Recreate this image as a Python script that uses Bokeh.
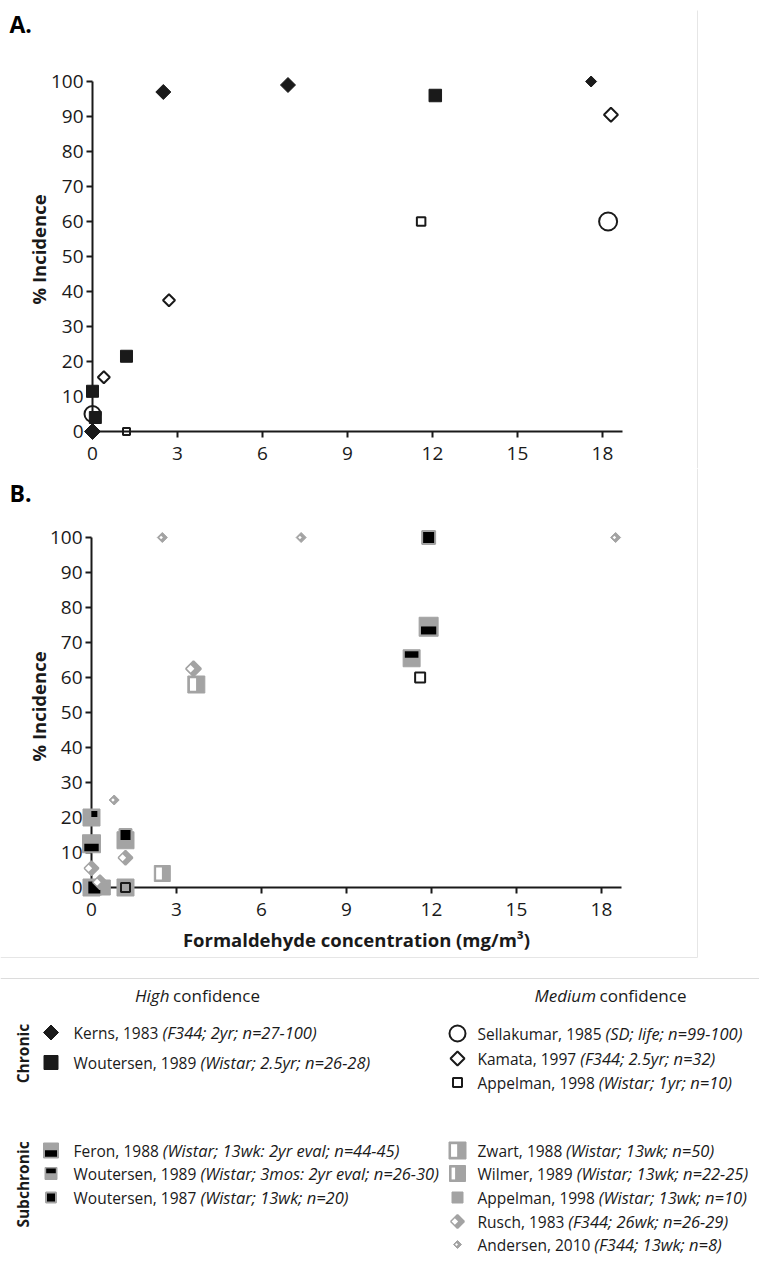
import math
from bokeh.plotting import figure
from bokeh.models import Range1d, LinearAxis, FixedTicker, ColumnDataSource
from bokeh.layouts import column
from bokeh.transform import dodge
from bokeh.core.properties import value
from bokeh.embed import file_html
from bokeh.resources import INLINE

# ---------------- data ----------------
x_ticks = [0, 3, 6, 9, 12, 15, 18]
y_ticks = [0, 10, 20, 30, 40, 50, 60, 70, 80, 90, 100]

# Panel A (chronic)
kerns_x = [0, 2.5, 6.9, 17.6]
kerns_y = [0, 97, 99, 100]
wout89c_x = [0, 0.1, 1.2, 12.1]
wout89c_y = [11.5, 4, 21.5, 96]
sella_x = [0, 18.2]
sella_y = [5, 60]
kamata_x = [0.4, 2.7, 18.3]
kamata_y = [15.5, 37.5, 90.5]
app1yr_a_x = [1.2, 11.6]
app1yr_a_y = [0, 60]

# Panel B (chronic + subchronic)
app13_x = [0, 1.2, 0, 1.2]
app13_y = [20, 13.5, 0, 0]
wilmer_x = [0.4]
wilmer_y = [0]
zwart_x = [2.5, 3.7]
zwart_y = [4, 58]
feron_x = [0, 11.9]
feron_y = [12.5, 74.5]
wout89s_x = [11.3]
wout89s_y = [65.5]
wout87_x = [0.1, 1.2, 0.1, 11.9]
wout87_y = [21, 15, 0, 100]
app1yr_b_x = [1.2, 11.6]
app1yr_b_y = [0, 60]
rusch_x = [0, 0.3, 1.2, 3.6]
rusch_y = [5.5, 1.5, 8.5, 62.5]
andersen_x = [0.8, 2.5, 7.4, 18.5]
andersen_y = [25, 100, 100, 100]

x_title = "Formaldehyde concentration (mg/m\u00b3)"
y_title = "% Incidence"

# ---------------- style ----------------
FONT = "Open Sans"
INK = "#1a1a1a"
GRAY = "#a3a3a3"
FAINT = "#e6e6e6"
W = 759
SX = 28.33   # px per mg/m3
SY = 3.5     # px per %

kerns_d = [16, 15, 15, 11]
wout89c_s = [12, 12, 12, 12.5]
sella_s = [16, 18]
kamata_d = [12, 12, 14]
app1yr_a_s = [7, 8.5]

app13_s = [17, 17, 17, 17]
wilmer_s = [15]
zwart_s = [16, 17]
feron_s = [18, 19]
wout89s_s = [17]
wout87_s = [8, 12, 14, 13]
app1yr_b_s = [9, 10]
rusch_d = [14, 14, 14, 15]
andersen_d = [10, 10, 10, 10]


class Frame:
    def __init__(self, p, ux, uy):
        self.p, self.ux, self.uy = p, ux, uy


def src(xs, ys, ss):
    return ColumnDataSource(dict(x=list(xs), y=list(ys), s=list(ss)))


def diamond(f, xs, ys, diag, fill, line, lw=1.0, dx=0.0):
    d = [v / math.sqrt(2) for v in diag]
    f.p.scatter(x=dodge("x", dx * f.ux), y="y", source=src(xs, ys, d), marker="square",
                angle=math.pi / 4, size="s", fill_color=fill, line_color=line, line_width=lw)


def square(f, xs, ys, size, fill, line, lw=1.0, marker="square"):
    f.p.scatter(x="x", y="y", source=src(xs, ys, size), marker=marker, size="s",
                fill_color=fill, line_color=line, line_width=lw)


def bar(f, xs, ys, w, h, dx, dy, fill):
    f.p.rect(x=dodge("x", dx * f.ux), y=dodge("y", dy * f.uy), width="w", height="h",
             width_units="screen", height_units="screen",
             source=ColumnDataSource(dict(x=list(xs), y=list(ys), w=list(w), h=list(h))),
             fill_color=fill, line_color=None)


def mean(v):
    return sum(v) / len(v)


def draw_kerns(f, xs, ys, d):
    diamond(f, xs, ys, d, INK, INK, 1)


def draw_wout89c(f, xs, ys, s):
    square(f, xs, ys, s, INK, INK, 1)


def draw_sella(f, xs, ys, s):
    square(f, xs, ys, s, None, INK, 2, marker="circle")


def draw_kamata(f, xs, ys, d):
    diamond(f, xs, ys, d, "white", INK, 2)


def draw_app1yr(f, xs, ys, s):
    square(f, xs, ys, s, None, INK, 2)


def draw_app13(f, xs, ys, s):
    square(f, xs, ys, s, GRAY, GRAY, 1)


def draw_feron(f, xs, ys, s):
    square(f, xs, ys, s, GRAY, GRAY, 1)
    m = mean(s)
    bar(f, xs, ys, [0.8 * v for v in s], [0.42 * v for v in s], 0, -0.2 * m, "black")


def draw_wout89s(f, xs, ys, s):
    square(f, xs, ys, s, GRAY, GRAY, 1)
    m = mean(s)
    bar(f, xs, ys, [0.8 * v for v in s], [0.38 * v for v in s], 0, 0.22 * m, "black")


def draw_wout87(f, xs, ys, s):
    square(f, xs, ys, s, "black", GRAY, 2)


def draw_zwart(f, xs, ys, s):
    square(f, xs, ys, s, GRAY, GRAY, 1)
    m = mean(s)
    bar(f, xs, ys, [0.36 * v for v in s], [0.74 * v for v in s], -0.2 * m, 0, "white")


def draw_wilmer(f, xs, ys, s):
    square(f, xs, ys, s, GRAY, GRAY, 1)
    m = mean(s)
    bar(f, xs, ys, [0.22 * v for v in s], [0.74 * v for v in s], -0.26 * m, 0, "white")


def draw_rusch(f, xs, ys, d):
    diamond(f, xs, ys, d, GRAY, GRAY, 2)
    diamond(f, xs, ys, [0.5 * v for v in d], "white", None, 0, dx=-0.2 * mean(d))


def draw_andersen(f, xs, ys, d):
    diamond(f, xs, ys, d, GRAY, GRAY, 1)
    diamond(f, xs, ys, [0.36 * v for v in d], "white", None, 0, dx=-0.12 * mean(d))


def panel(height, ax_px, zero_py, label, title_cy, with_xtitle):
    xr = Range1d(-ax_px / SX, (W - ax_px) / SX)
    yr = Range1d(-(height - zero_py) / SY, zero_py / SY)
    p = figure(width=W, height=height, x_range=xr, y_range=yr, output_backend="svg",
               toolbar_location=None, x_axis_type=None, y_axis_type=None, min_border=0,
               outline_line_color=None, background_fill_color="white", border_fill_color="white")
    common = dict(axis_line_width=2, axis_line_color=INK, major_tick_line_width=2,
                  major_tick_line_color=INK, major_tick_out=6, major_tick_in=0,
                  minor_tick_out=0, minor_tick_in=0, major_label_text_font=FONT,
                  major_label_text_font_size="19px", major_label_text_color=INK,
                  axis_label_text_font=FONT, axis_label_text_font_style="bold",
                  axis_label_text_font_size="18.5px", axis_label_text_color=INK, level="underlay")
    xa = LinearAxis(fixed_location=0, bounds=(0, 18.7), ticker=FixedTicker(ticks=x_ticks),
                    major_label_standoff=9, axis_label=(x_title if with_xtitle else None),
                    axis_label_standoff=8, **common)
    ya = LinearAxis(fixed_location=0, bounds=(0, 100), ticker=FixedTicker(ticks=y_ticks),
                    major_label_standoff=3, **common)
    p.add_layout(xa, "below")
    p.add_layout(ya, "left")
    px2x = lambda px: (px - ax_px) / SX
    px2y = lambda py: (zero_py - py) / SY
    # y-axis title
    p.text(x=[px2x(38)], y=[px2y(title_cy)], text=[y_title], angle=math.pi / 2,
           text_font=value(FONT), text_font_style="bold", text_font_size="18.5px",
           text_color=INK, text_align="center", text_baseline="middle")
    # panel letter
    p.text(x=[px2x(9)], y=[px2y(label[1])], text=[label[0]],
           text_font=value(FONT), text_font_style="bold", text_font_size="23px",
           text_color="black", text_align="left", text_baseline="middle")
    return p, Frame(p, 1 / SX, 1 / SY), px2x, px2y


# ---------------- Panel A ----------------
pA, fA, ax_, ay_ = panel(468, 92, 431, ("A.", 23), 249, False)
pA.segment(x0=[ax_(697)], y0=[ay_(10)], x1=[ax_(697)], y1=[ay_(468)], line_color=FAINT, line_width=1)
draw_sella(fA, sella_x, sella_y, sella_s)
draw_app1yr(fA, app1yr_a_x, app1yr_a_y, app1yr_a_s)
draw_kamata(fA, kamata_x, kamata_y, kamata_d)
draw_wout89c(fA, wout89c_x, wout89c_y, wout89c_s)
draw_kerns(fA, kerns_x, kerns_y, kerns_d)

# ---------------- Panel B ----------------
pB, fB, bx_, by_ = panel(492, 91, 419, ("B.", 24), 238, True)
pB.segment(x0=[bx_(697)], y0=[by_(0)], x1=[bx_(697)], y1=[by_(489)], line_color=FAINT, line_width=1)
pB.segment(x0=[bx_(0)], y0=[by_(489)], x1=[bx_(697)], y1=[by_(489)], line_color=FAINT, line_width=1)
draw_app13(fB, app13_x, app13_y, app13_s)
draw_wilmer(fB, wilmer_x, wilmer_y, wilmer_s)
draw_zwart(fB, zwart_x, zwart_y, zwart_s)
draw_feron(fB, feron_x, feron_y, feron_s)
draw_wout89s(fB, wout89s_x, wout89s_y, wout89s_s)
draw_app1yr(fB, app1yr_b_x, app1yr_b_y, app1yr_b_s)
draw_wout87(fB, wout87_x, wout87_y, wout87_s)
draw_rusch(fB, rusch_x, rusch_y, rusch_d)
draw_andersen(fB, andersen_x, andersen_y, andersen_d)

# ---------------- Legend ----------------
HL = 317
pL = figure(width=W, height=HL, x_range=Range1d(0, W), y_range=Range1d(HL, 0), output_backend="svg",
            toolbar_location=None, x_axis_type=None, y_axis_type=None, min_border=0,
            outline_line_color=None, background_fill_color="white", border_fill_color="white")
fL = Frame(pL, 1.0, -1.0)
pL.segment(x0=[0], y0=[18], x1=[W], y1=[18], line_color="#dcdcdc", line_width=1)

CW = {' ': .26, '(': .296, ')': .296, ',': .245, '-': .322, '.': .266, ':': .266, ';': .266,
      '=': .572, 'A': .633, 'F': .516, 'H': .738, 'K': .627, 'M': .903, 'R': .62, 'S': .549,
      'W': .944, 'Z': .564, 'a': .556, 'b': .613, 'c': .476, 'd': .613, 'e': .561, 'f': .339,
      'g': .548, 'h': .614, 'i': .253, 'k': .525, 'l': .253, 'm': .930, 'n': .614, 'o': .604,
      'p': .613, 'r': .408, 's': .477, 't': .353, 'u': .614, 'v': .501, 'w': .778, 'y': .502,
      'z': .477}


def tw(s, size, italic=False):
    w = sum(CW.get(c, 0.572 if c.isdigit() else 0.55) for c in s) * size
    return w * (0.92 if italic else 1.0)


LFS = 15.5
IFS = 16.5
HFS = 17

# headers
for cx, it, rest in [(197, "High", "confidence"), (610, "Medium", "confidence")]:
    total = tw(it, HFS, True) + tw(" " + rest, HFS)
    x0 = cx - total / 2
    pL.text(x=[x0], y=[35], text=[it], text_font=value(FONT), text_font_style="italic",
            text_font_size=f"{HFS}px", text_color=INK, text_align="left", text_baseline="middle")
    pL.text(x=[x0 + tw(it, HFS, True) + tw(" ", HFS)], y=[35], text=[rest], text_font=value(FONT),
            text_font_size=f"{HFS}px", text_color=INK, text_align="left", text_baseline="middle")

# group labels
for yy, t in [(93, "Chronic"), (224, "Subchronic")]:
    pL.text(x=[22], y=[yy], text=[t], angle=math.pi / 2, text_font=value(FONT),
            text_font_style="bold", text_font_size="15.5px", text_color=INK,
            text_align="center", text_baseline="middle")

LX_M, LX_T = 50.5, 73
RX_M, RX_T = 457, 477
entries = [
    (LX_M, LX_T, 72, "Kerns, 1983", "(F344; 2yr; n=27-100)", draw_kerns, [15]),
    (LX_M, LX_T, 102, "Woutersen, 1989", "(Wistar; 2.5yr; n=26-28)", draw_wout89c, [14]),
    (RX_M, RX_T, 73, "Sellakumar, 1985", "(SD; life; n=99-100)", draw_sella, [16]),
    (RX_M, RX_T, 98, "Kamata, 1997", "(F344; 2.5yr; n=32)", draw_kamata, [14]),
    (RX_M, RX_T, 122, "Appelman, 1998", "(Wistar; 1yr; n=10)", draw_app1yr, [9]),
    (LX_M, LX_T, 190, "Feron, 1988", "(Wistar; 13wk: 2yr eval; n=44-45)", draw_feron, [15]),
    (LX_M, LX_T, 213, "Woutersen, 1989", "(Wistar; 3mos: 2yr eval; n=26-30)", draw_wout89s, [12]),
    (LX_M, LX_T, 237, "Woutersen, 1987", "(Wistar; 13wk; n=20)", draw_wout87, [10]),
    (RX_M, RX_T, 190, "Zwart, 1988", "(Wistar; 13wk; n=50)", draw_zwart, [17]),
    (RX_M, RX_T, 213, "Wilmer, 1989", "(Wistar; 13wk; n=22-25)", draw_wilmer, [16]),
    (RX_M, RX_T, 237, "Appelman, 1998", "(Wistar; 13wk; n=10)", draw_app13, [11]),
    (RX_M, RX_T, 261, "Rusch, 1983", "(F344; 26wk; n=26-29)", draw_rusch, [13]),
    (RX_M, RX_T, 284, "Andersen, 2010", "(F344; 13wk; n=8)", draw_andersen, [8]),
]
for mx, tx, yy, name, detail, fn, sz in entries:
    fn(fL, [mx], [yy], sz)
    pL.text(x=[tx], y=[yy], text=[name], text_font=value(FONT), text_font_size=f"{LFS}px",
            text_color=INK, text_align="left", text_baseline="middle")
    pL.text(x=[tx + tw(name + " ", LFS)], y=[yy], text=[detail], text_font=value(FONT),
            text_font_style="italic", text_font_size=f"{IFS}px", text_color=INK,
            text_align="left", text_baseline="middle")

layout = column(pA, pB, pL, spacing=0)
open("out.html", "w").write(file_html(layout, INLINE))
